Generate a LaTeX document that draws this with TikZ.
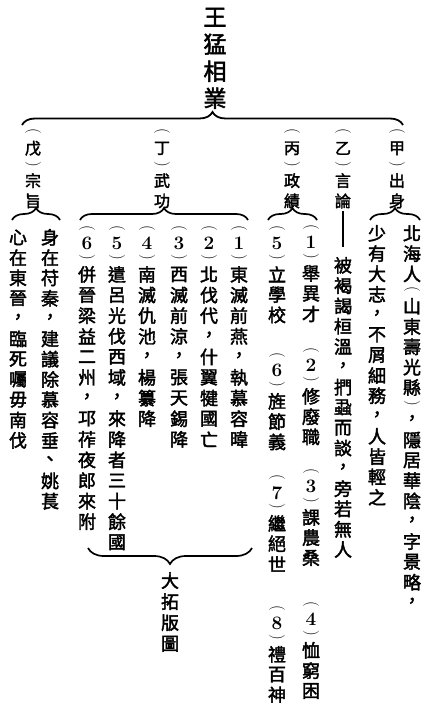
\documentclass[tikz,border=0pt]{standalone}
\usepackage{fontspec}
\usepackage{graphicx}
\usetikzlibrary{decorations.pathreplacing}
\newfontfamily\cjk[FakeBold=2.2]{Noto Sans CJK TC}

\newdimen\vpitch \vpitch=20.3pt
\newdimen\vparen \vparen=12pt
\newdimen\vdigit \vdigit=17pt
\newdimen\vcw \vcw=20pt
\newdimen\vgap \vgap=20pt
\def\VTend{VTEND}
\def\parenfont{\fontsize{16pt}{16pt}\selectfont\rmfamily\mdseries}
\def\digitfont{\fontsize{19pt}{19pt}\selectfont\rmfamily\bfseries}
\def\VTbox#1#2{\hbox to\vcw{\hss\vbox to#1{\vss\hbox{#2}\vss}\hss}}
\def\VTitem#1{%
  \ifnum`#1<128
    \ifx#1(\VTbox\vparen{\rotatebox[origin=c]{-90}{\parenfont(}}%
    \else\ifx#1)\VTbox\vparen{\rotatebox[origin=c]{-90}{\parenfont)}}%
    \else\ifx#1/\vskip\vgap
    \else\VTbox\vdigit{\digitfont#1}%
    \fi\fi\fi
  \else\VTbox\vpitch{#1}%
  \fi}
\def\VTloop#1{\ifx#1\VTend\else\VTitem#1\expandafter\VTloop\fi}
\def\VT#1{\vbox{\offinterlineskip\VTloop#1\VTend}}

\tikzset{
  vt/.style={inner sep=0pt, anchor=north, font=\cjk\fontsize{18pt}{20pt}\selectfont},
  vtlabel/.style={vt, font=\cjk\fontsize{16pt}{18pt}\selectfont},
  vttitle/.style={vt, font=\cjk\fontsize{23pt}{27pt}\selectfont},
  bracetop/.style={decorate, line width=1.8pt, decoration={brace, amplitude=13pt}},
  bracesub/.style={decorate, line width=1.7pt, decoration={brace, amplitude=12pt}},
  bracebot/.style={decorate, line width=1.7pt, decoration={brace, amplitude=16pt}},
  link/.style={line width=1.6pt}
}

\begin{document}
\begin{tikzpicture}[x=1pt, y=1pt]
\useasboundingbox (0,0) rectangle (428,-703);

% title
\node[vttitle] (title) at (215,-3.5) {\vpitch=27pt\VT{王猛相業}};

% top brace
\coordinate (tbL) at (22,-125);
\coordinate (tbR) at (403,-125);
\draw[bracetop] (tbL) -- (tbR);

% category labels
\node[vtlabel] (wu)   at (33,-126)  {\VT{(戊)宗旨}};
\node[vtlabel] (ding) at (162,-126) {\VT{(丁)武功}};
\node[vtlabel] (bing) at (292,-126) {\VT{(丙)政績}};
\node[vtlabel] (yi)   at (343,-126) {\VT{(乙)言論}};
\node[vtlabel] (jia)  at (397,-126) {\VT{(甲)出身}};

% sub braces
\coordinate (wuL) at (12,-220);   \coordinate (wuR) at (60,-220);
\coordinate (dingL) at (80,-220); \coordinate (dingR) at (248,-220);
\coordinate (bingL) at (268,-220);\coordinate (bingR) at (317,-220);
\coordinate (jiaL) at (370,-220); \coordinate (jiaR) at (420,-220);
\draw[bracesub] (wuL) -- (wuR);
\draw[bracesub] (dingL) -- (dingR);
\draw[bracesub] (bingL) -- (bingR);
\draw[bracesub] (jiaL) -- (jiaR);

% (甲)
\node[vt] (jia1) at (412,-223) {\VT{北海人(山東壽光縣)，隱居華陰，字景略，}};
\node[vt] (jia2) at (377,-223) {\VT{少有大志，不屑細務，人皆輕之}};

% (乙)
\node[vt] (yi1) at (343,-255) {\VT{被褐謁桓溫，捫蝨而談，旁若無人}};
\draw[link, shorten >=8pt] (yi.south) -- (yi1.north);

% (丙)
\node[vt] (b1) at (311,-222) {\VT{(1)舉異才}};
\node[vt] (b2) at (311,-345) {\VT{(2)修廢職}};
\node[vt] (b3) at (311,-466) {\VT{(3)課農桑}};
\node[vt] (b4) at (311,-599) {\VT{(4)恤窮困}};
\node[vt] (b5) at (277,-223) {\VT{(5)立學校}};
\node[vt] (b6) at (277,-350) {\VT{(6)旌節義}};
\node[vt] (b7) at (277,-472) {\VT{(7)繼絕世}};
\node[vt] (b8) at (277,-603) {\VT{(8)禮百神}};

% (丁)
\node[vt] (d1) at (239,-223) {\vpitch=20.6pt\VT{(1)東滅前燕，執慕容暐}};
\node[vt] (d2) at (209,-223) {\vpitch=20.6pt\VT{(2)北伐代，什翼犍國亡}};
\node[vt] (d3) at (179,-223) {\vpitch=20.6pt\VT{(3)西滅前涼，張天錫降}};
\node[vt] (d4) at (147,-223) {\vpitch=20.6pt\VT{(4)南滅仇池，楊纂降}};
\node[vt] (d5) at (117,-223) {\vpitch=20.6pt\VT{(5)遣呂光伐西域，來降者三十餘國}};
\node[vt] (d6) at (87,-223)  {\vpitch=20.6pt\VT{(6)併晉梁益二州，邛莋夜郎來附}};

\coordinate (bbR) at (252,-548);
\coordinate (bbL) at (88,-548);
\draw[bracebot] (bbR) -- (bbL);
\node[vt] (tuo) at (170,-570) {\vpitch=21pt\VT{大拓版圖}};

% (戊)
\node[vt] (w1) at (50,-227) {\VT{身在苻秦，建議除慕容垂、姚萇}};
\node[vt] (w2) at (18,-227) {\VT{心在東晉，臨死囑毋南伐}};
\end{tikzpicture}
\end{document}
